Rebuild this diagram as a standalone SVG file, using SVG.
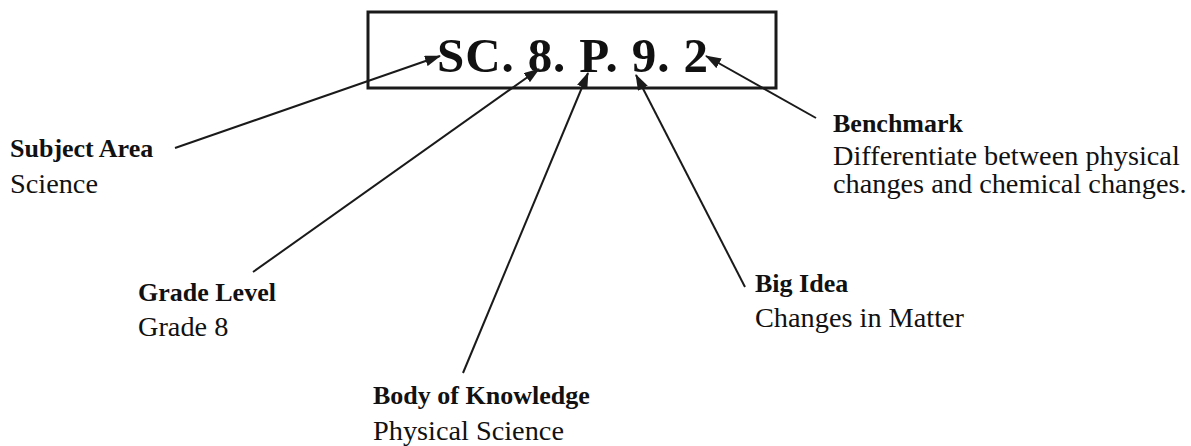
<svg xmlns="http://www.w3.org/2000/svg" width="1191" height="446" viewBox="0 0 1191 446">
<style>
  .b { font-family: "Liberation Serif", "Times New Roman", serif; font-weight: bold; font-size: 26px; fill: #111; }
  .r { font-family: "Liberation Serif", "Times New Roman", serif; font-size: 28.3px; fill: #111; }
  .code { font-family: "Liberation Serif", "Times New Roman", serif; font-weight: bold; font-size: 49px; fill: #111; }
  .conn line { stroke: #1a1a1a; stroke-width: 2; marker-end: url(#ah); }
</style>
<defs>
  <marker id="ah" viewBox="0 0 16 11" refX="15" refY="5.5" markerWidth="16" markerHeight="11" markerUnits="userSpaceOnUse" orient="auto">
    <path d="M0,0 L16,5.5 L0,11 Z" fill="#1a1a1a"/>
  </marker>
</defs>
<rect width="1191" height="446" fill="#fff"/>
<g id="code">
  <rect x="368" y="12" width="408" height="76" fill="none" stroke="#1a1a1a" stroke-width="3"/>
  <text class="code" x="437" y="72" textLength="271" lengthAdjust="spacing">SC. 8. P. 9. 2</text>
</g>
<g id="subject-area">
  <text class="b" x="10" y="157">Subject Area</text>
  <text class="r" x="10" y="193">Science</text>
</g>
<g id="grade-level">
  <text class="b" x="138" y="301">Grade Level</text>
  <text class="r" x="138" y="336">Grade 8</text>
</g>
<g id="body-of-knowledge">
  <text class="b" x="373" y="404">Body of Knowledge</text>
  <text class="r" x="373" y="440">Physical Science</text>
</g>
<g id="big-idea">
  <text class="b" x="755" y="292">Big Idea</text>
  <text class="r" x="755" y="327">Changes in Matter</text>
</g>
<g id="benchmark">
  <text class="b" x="833" y="132">Benchmark</text>
  <text class="r" x="833" y="165">Differentiate between physical</text>
  <text class="r" x="833" y="193">changes and chemical changes.</text>
</g>
<g id="connectors" class="conn">
  <line x1="175" y1="148" x2="440" y2="56"/>
  <line x1="253" y1="272" x2="539" y2="69"/>
  <line x1="463" y1="373" x2="588" y2="73"/>
  <line x1="745" y1="287" x2="636" y2="75"/>
  <line x1="816" y1="118" x2="706" y2="56"/>
</g>
</svg>
